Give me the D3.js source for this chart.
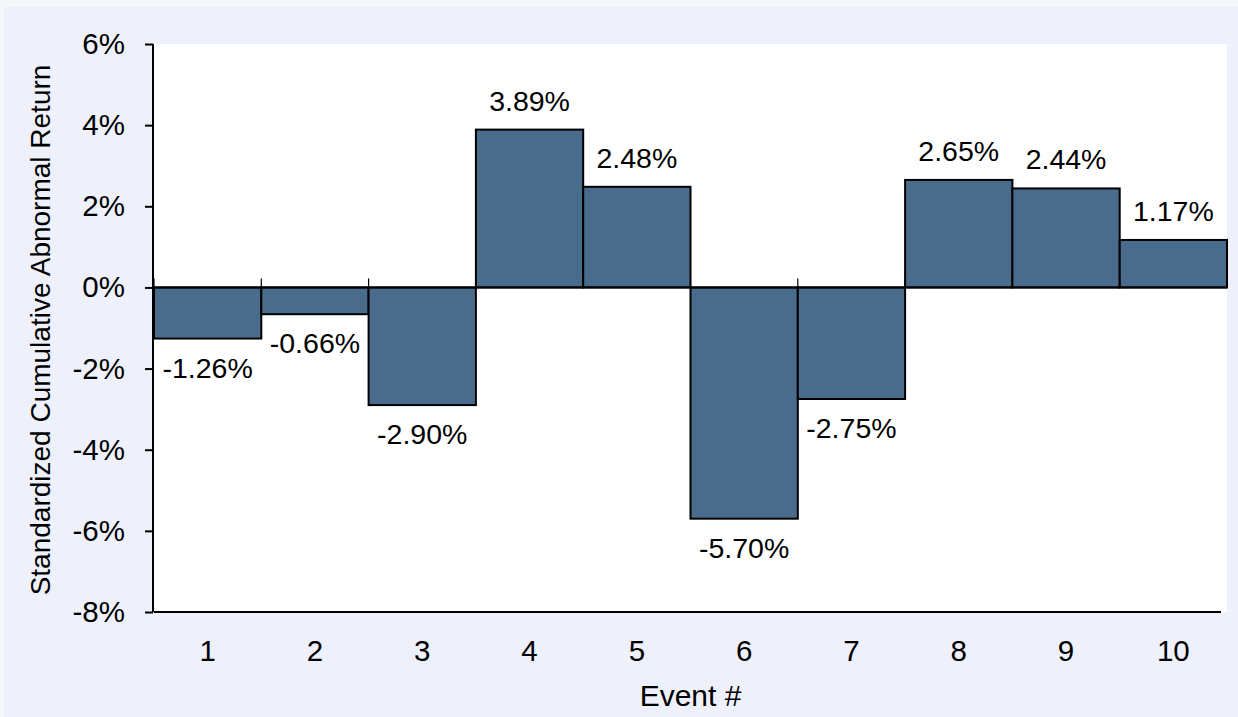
<!DOCTYPE html>
<html>
<head>
<meta charset="utf-8">
<script src="https://cdn.jsdelivr.net/npm/d3@7"></script>
<style>
  html, body { margin: 0; padding: 0; background: #f3f9f9; }
  svg { display: block; }
  text { font-family: "Liberation Sans", Arial, sans-serif; fill: #000; }
</style>
</head>
<body>
<svg id="chart" width="1238" height="717"></svg>
<script>
// Standardized cumulative abnormal return per event (in %)
const events = ["1", "2", "3", "4", "5", "6", "7", "8", "9", "10"];
const scar = [-1.26, -0.66, -2.90, 3.89, 2.48, -5.70, -2.75, 2.65, 2.44, 1.17];
const yTicks = [-8, -6, -4, -2, 0, 2, 4, 6];

const svg = d3.select("#chart");
const W = 1238, H = 717;
const plot = { left: 154, right: 1227, top: 44, bottom: 612 };

// outer chart area
svg.append("rect").attr("x", 4).attr("y", 7).attr("width", W - 4).attr("height", H - 7)
  .attr("fill", "#eef0fc");
// plot area
svg.append("rect").attr("x", plot.left).attr("y", plot.top)
  .attr("width", plot.right - plot.left).attr("height", plot.bottom - plot.top)
  .attr("fill", "#ffffff");

const x = d3.scaleBand().domain(events).range([plot.left, plot.right]).padding(0);
const y = d3.scaleLinear().domain([-8, 6]).range([plot.bottom, plot.top]);

// bars
svg.append("g").selectAll("rect").data(scar).join("rect")
  .attr("x", (d, i) => x(events[i]))
  .attr("width", x.bandwidth())
  .attr("y", d => Math.min(y(d), y(0)))
  .attr("height", d => Math.abs(y(d) - y(0)))
  .attr("fill", "#496c8d")
  .attr("stroke", "#000")
  .attr("stroke-width", 2);

// value labels
svg.append("g").selectAll("text").data(scar).join("text")
  .attr("x", (d, i) => x(events[i]) + x.bandwidth() / 2)
  .attr("y", d => d >= 0 ? y(d) - 19 : y(d) + 39)
  .attr("text-anchor", "middle")
  .style("font-size", "28.5px")
  .text(d => d.toFixed(2) + "%");

// zero line with category ticks
const zeroAxis = svg.append("g").attr("transform", `translate(0,${y(0)})`)
  .call(d3.axisTop(x).tickSize(0).tickFormat(""));
zeroAxis.select(".domain").attr("stroke", "#000").attr("stroke-width", 2)
  .attr("d", `M${plot.left},0H${plot.right}`);
zeroAxis.selectAll(".bnd").data(d3.range(events.length + 1)).join("line")
  .attr("class", "bnd")
  .attr("x1", i => plot.left + i * x.step()).attr("x2", i => plot.left + i * x.step())
  .attr("y1", 0).attr("y2", -9)
  .attr("stroke", "#000").attr("stroke-width", 1.2);

// bottom category axis with labels
const xAxis = svg.append("g").attr("transform", `translate(0,${plot.bottom})`)
  .call(d3.axisBottom(x).tickSize(0).tickPadding(28));
xAxis.select(".domain").attr("stroke", "#000").attr("stroke-width", 2)
  .attr("d", `M${plot.left},0H${plot.right - 6}`);
xAxis.selectAll("text").style("font-size", "29.5px")
  .style("font-family", "'Liberation Sans', Arial, sans-serif").attr("dy", "0.72em");

// value axis
const yAxis = svg.append("g").attr("transform", `translate(${plot.left - 1},0)`)
  .call(d3.axisLeft(y).tickValues(yTicks).tickSize(8).tickPadding(20)
    .tickFormat(d => d + "%"));
yAxis.select(".domain").attr("stroke", "#000").attr("stroke-width", 2)
  .attr("d", `M0,${plot.top}V${plot.bottom}`);
yAxis.selectAll(".tick line").attr("stroke", "#000").attr("stroke-width", 2);
yAxis.selectAll("text").style("font-size", "29.5px")
  .style("font-family", "'Liberation Sans', Arial, sans-serif");

// axis titles
svg.append("text")
  .attr("x", (plot.left + plot.right) / 2).attr("y", 706)
  .attr("text-anchor", "middle").style("font-size", "30px")
  .text("Event #");

svg.append("text")
  .attr("transform", `translate(50,${(plot.top + plot.bottom) / 2 + 2}) rotate(-90)`)
  .attr("text-anchor", "middle").style("font-size", "28px")
  .text("Standardized Cumulative Abnormal Return");
</script>
</body>
</html>
